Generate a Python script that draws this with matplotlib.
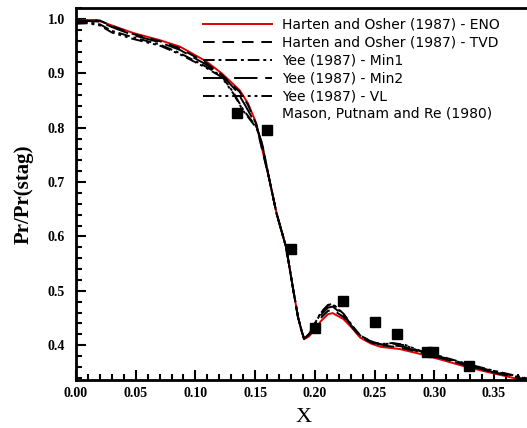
import numpy as np
import matplotlib
matplotlib.use("Agg")
import matplotlib.pyplot as plt
from matplotlib.lines import Line2D
from matplotlib.ticker import MultipleLocator, FormatStrFormatter

# Harten & Osher ENO
x_eno = [0.0, 0.01, 0.017, 0.03, 0.048, 0.07, 0.087, 0.109, 0.122, 0.137, 0.144,
         0.151, 0.154, 0.162, 0.168, 0.176, 0.182, 0.186, 0.189, 0.191, 0.195,
         0.199, 0.205, 0.211, 0.215, 0.224, 0.231, 0.238, 0.247, 0.255, 0.271,
         0.288, 0.308, 0.327, 0.350, 0.372, 0.380]
y_eno = [0.996, 0.998, 0.998, 0.988, 0.974, 0.961, 0.949, 0.922, 0.900, 0.869, 0.845,
         0.808, 0.778, 0.704, 0.642, 0.580, 0.501, 0.451, 0.426, 0.411, 0.416,
         0.426, 0.444, 0.457, 0.459, 0.448, 0.432, 0.414, 0.403, 0.397, 0.393,
         0.384, 0.372, 0.360, 0.348, 0.337, 0.334]

# Harten & Osher TVD
x_tvd = [0.0, 0.01, 0.02, 0.03, 0.048, 0.07, 0.087, 0.109, 0.122, 0.137, 0.144,
         0.151, 0.154, 0.162, 0.168, 0.176, 0.182, 0.186, 0.189, 0.191, 0.195,
         0.199, 0.205, 0.211, 0.215, 0.224, 0.231, 0.238, 0.247, 0.255, 0.271,
         0.288, 0.308, 0.327, 0.350, 0.372, 0.380]
y_tvd = [0.995, 0.997, 0.997, 0.987, 0.972, 0.959, 0.946, 0.919, 0.897, 0.866, 0.842,
         0.806, 0.777, 0.704, 0.642, 0.580, 0.501, 0.451, 0.426, 0.412, 0.418,
         0.430, 0.450, 0.463, 0.465, 0.452, 0.434, 0.416, 0.405, 0.400, 0.396,
         0.387, 0.375, 0.363, 0.350, 0.339, 0.336]

# Yee Min1
x_min1 = [0.0, 0.01, 0.02, 0.03, 0.048, 0.07, 0.087, 0.109, 0.122, 0.132, 0.140,
          0.151, 0.156, 0.162, 0.168, 0.176, 0.182, 0.186, 0.189, 0.191, 0.195,
          0.199, 0.205, 0.211, 0.215, 0.224, 0.231, 0.238, 0.247, 0.255, 0.265,
          0.275, 0.288, 0.308, 0.327, 0.350, 0.372, 0.380]
y_min1 = [0.993, 0.994, 0.990, 0.978, 0.966, 0.953, 0.937, 0.912, 0.895, 0.864, 0.833,
          0.802, 0.770, 0.704, 0.642, 0.580, 0.501, 0.451, 0.426, 0.412, 0.420,
          0.436, 0.460, 0.474, 0.476, 0.458, 0.437, 0.418, 0.407, 0.402, 0.403,
          0.400, 0.389, 0.377, 0.365, 0.352, 0.341, 0.337]

# Yee Min2
x_min2 = [0.0, 0.01, 0.02, 0.03, 0.048, 0.07, 0.087, 0.109, 0.122, 0.135, 0.142,
          0.151, 0.155, 0.162, 0.168, 0.176, 0.182, 0.186, 0.189, 0.191, 0.195,
          0.199, 0.205, 0.211, 0.215, 0.224, 0.231, 0.238, 0.247, 0.255, 0.265,
          0.275, 0.288, 0.308, 0.327, 0.350, 0.372, 0.380]
y_min2 = [0.994, 0.996, 0.995, 0.985, 0.970, 0.957, 0.943, 0.916, 0.897, 0.866, 0.840,
          0.804, 0.775, 0.704, 0.642, 0.580, 0.501, 0.451, 0.426, 0.412, 0.419,
          0.433, 0.455, 0.469, 0.471, 0.455, 0.435, 0.417, 0.406, 0.401, 0.400,
          0.397, 0.387, 0.375, 0.363, 0.350, 0.339, 0.336]

# Yee VL
x_vl = [0.0, 0.01, 0.02, 0.03, 0.048, 0.07, 0.087, 0.109, 0.122, 0.132, 0.140,
        0.151, 0.156, 0.162, 0.168, 0.176, 0.182, 0.186, 0.189, 0.191, 0.195,
        0.199, 0.205, 0.211, 0.215, 0.224, 0.231, 0.238, 0.247, 0.255, 0.265,
        0.275, 0.288, 0.308, 0.327, 0.350, 0.372, 0.380]
y_vl = [0.991, 0.992, 0.988, 0.975, 0.963, 0.951, 0.935, 0.910, 0.893, 0.862, 0.831,
        0.800, 0.769, 0.704, 0.642, 0.580, 0.501, 0.451, 0.426, 0.412, 0.420,
        0.435, 0.459, 0.473, 0.475, 0.457, 0.436, 0.418, 0.407, 0.402, 0.404,
        0.401, 0.390, 0.378, 0.366, 0.353, 0.342, 0.338]

# Mason, Putnam and Re (1980) experiment
x_exp = [0.135, 0.160, 0.180, 0.200, 0.224, 0.250, 0.269, 0.294, 0.299, 0.329]
y_exp = [0.827, 0.795, 0.576, 0.432, 0.482, 0.443, 0.420, 0.387, 0.387, 0.361]

labels = ["Harten and Osher (1987) - ENO",
          "Harten and Osher (1987) - TVD",
          "Yee (1987) - Min1",
          "Yee (1987) - Min2",
          "Yee (1987) - VL",
          "Mason, Putnam and Re (1980)"]

fig = plt.figure(figsize=(5.27, 4.28), dpi=100)
ax = fig.add_axes([76 / 527, 48 / 428, 455 / 527, 372 / 428])

lw = 1.4
h1, = ax.plot(x_eno, y_eno, color="#e00000", lw=lw, ls="-")
h2, = ax.plot(x_tvd, y_tvd, color="black", lw=lw, ls=(0, (6, 4)))
h3, = ax.plot(x_min1, y_min1, color="black", lw=lw, ls=(0, (6, 2, 1.5, 2)))
h4, = ax.plot(x_min2, y_min2, color="black", lw=lw, ls=(0, (12, 4)))
h5, = ax.plot(x_vl, y_vl, color="black", lw=lw, ls=(0, (6, 2, 1.5, 2, 1.5, 2)))
ax.plot(x_exp, y_exp, ls="none", marker="s", ms=7.5, color="black")
h6 = Line2D([], [], ls="none")

ax.set_xlim(0, 455 / 1194)
ax.set_ylim(0.336, 1.02)

ax.xaxis.set_major_locator(MultipleLocator(0.05))
ax.xaxis.set_minor_locator(MultipleLocator(0.01))
ax.yaxis.set_major_locator(MultipleLocator(0.1))
ax.yaxis.set_minor_locator(MultipleLocator(0.02))
ax.xaxis.set_major_formatter(FormatStrFormatter("%.2f"))
ax.yaxis.set_major_formatter(FormatStrFormatter("%.1f"))
ax.tick_params(which="both", direction="in", width=1.5, top=False, right=False)
ax.tick_params(which="major", length=7)
ax.tick_params(which="minor", length=4)
ax.tick_params(axis="x", pad=5)
ax.tick_params(axis="y", pad=8)
for lab in ax.get_xticklabels() + ax.get_yticklabels():
    lab.set_fontfamily("Liberation Serif")
    lab.set_fontweight("bold")
    lab.set_fontsize(10)
for sp in ax.spines.values():
    sp.set_linewidth(2)

ax.set_xlabel("X", fontfamily="Liberation Serif", fontsize=16, labelpad=6)
ax.set_ylabel("Pr/Pr(stag)", fontfamily="Liberation Serif", fontweight="bold",
              fontsize=15, labelpad=10)

fig.legend([h1, h2, h3, h4, h5, h6], labels, loc="upper left",
           bbox_to_anchor=(203 / 527, 1 - 18 / 428), frameon=False,
           prop={"family": "DejaVu Sans", "size": 10}, handlelength=5.0,
           handletextpad=0.7, labelspacing=0.28, borderpad=0, borderaxespad=0)

fig.savefig("out.png", dpi=100)
